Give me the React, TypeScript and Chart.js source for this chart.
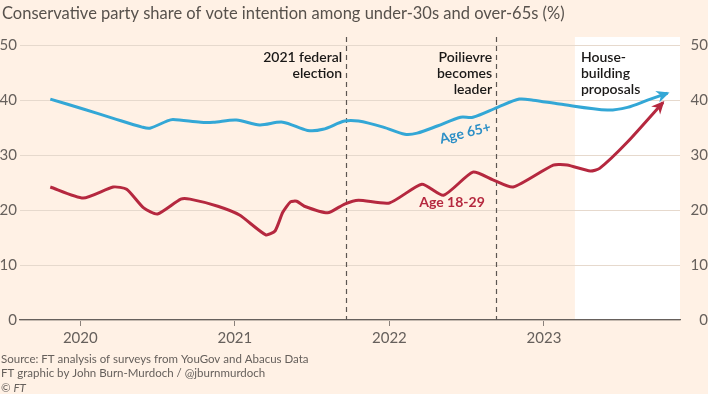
import React, { useEffect, useRef } from "react";
import { Chart, registerables } from "chart.js";

Chart.register(...registerables);

const title = "Conservative party share of vote intention among under-30s and over-65s (%)";
const footerLines = [
  "Source: FT analysis of surveys from YouGov and Abacus Data",
  "FT graphic by John Burn-Murdoch / @jburnmurdoch",
];

const xTickYears = [2020, 2021, 2022, 2023];
const yTicks = [0, 10, 20, 30, 40, 50];

const olderDates = [
  2019.806, 2020.019, 2020.213, 2020.4, 2020.45, 2020.56, 2020.6, 2020.78, 2020.86, 2021.01,
  2021.16, 2021.31, 2021.47, 2021.57, 2021.71, 2021.8, 2021.96, 2022.1, 2022.18, 2022.31,
  2022.46, 2022.54, 2022.7, 2022.84, 2022.93, 2023.1, 2023.41, 2023.54, 2023.67, 2023.8,
];
const olderValues = [
  40.2, 38.4, 36.7, 35.1, 34.9, 36.2, 36.5, 36.0, 36.0, 36.4,
  35.5, 36.0, 34.5, 34.7, 36.2, 36.2, 35.1, 33.8, 34.0, 35.3,
  36.9, 36.9, 38.7, 40.2, 40.0, 39.3, 38.2, 38.7, 40.0, 41.3,
];

const youngDates = [
  2019.806, 2020.019, 2020.213, 2020.3, 2020.41, 2020.5, 2020.65, 2020.71, 2020.89, 2021.03,
  2021.2, 2021.26, 2021.31, 2021.36, 2021.4, 2021.45, 2021.6, 2021.71, 2021.8, 2022.0,
  2022.21, 2022.35, 2022.54, 2022.67, 2022.8, 2023.06, 2023.15, 2023.3, 2023.36, 2023.54,
  2023.77,
];
const youngValues = [
  24.2, 22.2, 24.2, 23.8, 20.4, 19.3, 22.0, 22.0, 20.7, 19.1,
  15.5, 16.2, 19.6, 21.5, 21.6, 20.7, 19.5, 21.1, 21.8, 21.3,
  24.7, 22.7, 26.9, 25.5, 24.2, 28.2, 28.2, 27.1, 27.6, 32.4,
  39.6,
];

const eventDates = [2021.72, 2022.69];
const eventLabels = [["2021 federal", "election"], ["Poilievre", "becomes", "leader"]];
const highlightStart = 2023.2;
const highlightLabel = ["House-", "building", "proposals"];

const seriesLabels = ["Age 65+", "Age 18-29"];
const seriesLabelPos = [
  { x: 2022.49, y: 34.0 },
  { x: 2022.405, y: 21.3 },
];

const BLUE = "#33a7d6";
const BLUE_TEXT = "#2d8fc6";
const RED = "#b5283f";
const GREY = "#66605c";
const BG = "#fff1e5";

const App: React.FC = () => {
  const ref = useRef<HTMLCanvasElement | null>(null);

  useEffect(() => {
    document.body.style.margin = "0";
    const canvas = ref.current;
    if (!canvas) return;

    const highlightPlugin = {
      id: "highlight",
      beforeDraw(chart: any) {
        const { ctx, chartArea, scales } = chart;
        const x0 = scales.x.getPixelForValue(highlightStart);
        ctx.save();
        ctx.fillStyle = "#ffffff";
        ctx.fillRect(x0, chartArea.top, chartArea.right - x0, chartArea.bottom - chartArea.top);
        ctx.restore();
      },
    };

    const eventPlugin = {
      id: "events",
      beforeDatasetsDraw(chart: any) {
        const { ctx, chartArea, scales } = chart;
        ctx.save();
        ctx.strokeStyle = "#5c5652";
        ctx.lineWidth = 1.2;
        ctx.setLineDash([5, 4]);
        eventDates.forEach((d) => {
          const x = Math.round(scales.x.getPixelForValue(d)) + 0.5;
          ctx.beginPath();
          ctx.moveTo(x, chartArea.top);
          ctx.lineTo(x, chartArea.bottom);
          ctx.stroke();
        });
        ctx.setLineDash([]);
        ctx.fillStyle = "#1a1817";
        ctx.font = "600 14px Lato";
        ctx.textBaseline = "middle";
        ctx.textAlign = "right";
        eventDates.forEach((d, i) => {
          const x = scales.x.getPixelForValue(d) - 4;
          eventLabels[i].forEach((line, j) => {
            ctx.fillText(line, x, 57 + j * 16);
          });
        });
        ctx.textAlign = "left";
        const hx = scales.x.getPixelForValue(highlightStart) + 6;
        highlightLabel.forEach((line, j) => {
          ctx.fillText(line, hx, 57 + j * 16);
        });
        ctx.restore();
      },
      afterDatasetsDraw(chart: any) {
        const { ctx, scales } = chart;
        ctx.save();
        chart.data.datasets.forEach((ds: any, i: number) => {
          const meta = chart.getDatasetMeta(i);
          const pts = meta.data;
          const last = pts[pts.length - 1];
          const prev = pts[pts.length - 2];
          let dx = last.x - (last.cp1x ?? prev.x);
          let dy = last.y - (last.cp1y ?? prev.y);
          const len = Math.hypot(dx, dy) || 1;
          dx /= len;
          dy /= len;
          const tipX = last.x + dx * 2;
          const tipY = last.y + dy * 2;
          const L = 13;
          const W = 6;
          const bx = tipX - dx * L;
          const by = tipY - dy * L;
          const nx = -dy;
          const ny = dx;
          ctx.fillStyle = ds.borderColor;
          ctx.beginPath();
          ctx.moveTo(tipX, tipY);
          ctx.lineTo(bx + nx * W, by + ny * W);
          ctx.lineTo(tipX - dx * L * 0.7, tipY - dy * L * 0.7);
          ctx.lineTo(bx - nx * W, by - ny * W);
          ctx.closePath();
          ctx.fill();
        });
        ctx.font = "bold 14px Lato";
        ctx.textAlign = "center";
        ctx.textBaseline = "middle";
        const p0 = seriesLabelPos[0];
        ctx.save();
        ctx.translate(scales.x.getPixelForValue(p0.x), scales.y.getPixelForValue(p0.y));
        ctx.rotate((-14 * Math.PI) / 180);
        ctx.fillStyle = BLUE_TEXT;
        ctx.fillText(seriesLabels[0], 0, 0);
        ctx.restore();
        const p1 = seriesLabelPos[1];
        ctx.fillStyle = RED;
        ctx.fillText(seriesLabels[1], scales.x.getPixelForValue(p1.x), scales.y.getPixelForValue(p1.y));
        ctx.restore();
      },
      afterDraw(chart: any) {
        const { ctx } = chart;
        ctx.save();
        ctx.textBaseline = "middle";
        ctx.textAlign = "left";
        ctx.fillStyle = "#57514c";
        ctx.font = "16.5px Lato";
        ctx.fillText(title, 2, 14);
        ctx.fillStyle = GREY;
        ctx.font = "11.5px Lato";
        footerLines.forEach((l, i) => ctx.fillText(l, 1, 359 + i * 14.5));
        ctx.fillText("©", 1, 388);
        const w = ctx.measureText("© ").width;
        ctx.font = "italic 11.5px Lato";
        ctx.fillText("FT", 1 + w, 388);
        ctx.restore();
      },
    };

    const tickFont = { family: "Lato", size: 15 };

    const chart = new Chart(canvas, {
      type: "line",
      data: {
        datasets: [
          {
            label: seriesLabels[0],
            data: olderDates.map((d, i) => ({ x: d, y: olderValues[i] })),
            borderColor: BLUE,
            borderWidth: 3,
            pointRadius: 0,
            tension: 0.3,
            yAxisID: "y",
          },
          {
            label: seriesLabels[1],
            data: youngDates.map((d, i) => ({ x: d, y: youngValues[i] })),
            borderColor: RED,
            borderWidth: 3,
            pointRadius: 0,
            tension: 0.2,
            yAxisID: "y",
          },
        ],
      },
      options: {
        animation: false,
        responsive: false,
        maintainAspectRatio: false,
        events: [],
        layout: { padding: { top: 37, bottom: 44, left: 0, right: 0 } },
        plugins: {
          legend: { display: false },
          tooltip: { enabled: false },
          title: { display: false },
        },
        scales: {
          x: {
            type: "linear",
            min: 2019.61,
            max: 2023.88,
            afterBuildTicks: (s: any) => {
              s.ticks = xTickYears.map((v) => ({ value: v }));
            },
            afterFit: (s: any) => {
              s.height = 30;
            },
            ticks: {
              color: GREY,
              font: tickFont,
              padding: 3,
              maxRotation: 0,
              callback: (v: any) => String(v),
            },
            grid: {
              drawOnChartArea: false,
              drawTicks: true,
              tickLength: 6,
              color: "#8a817b",
            },
            border: { color: GREY, width: 1.2 },
          },
          y: {
            position: "left",
            min: 0,
            max: 51.5,
            afterBuildTicks: (s: any) => {
              s.ticks = yTicks.map((v) => ({ value: v }));
            },
            afterFit: (s: any) => {
              s.width = 20;
            },
            ticks: { color: GREY, font: tickFont, padding: 3 },
            grid: { color: "#e6d9cd", drawTicks: false, lineWidth: 1 },
            border: { display: false },
          },
          y2: {
            position: "right",
            min: 0,
            max: 51.5,
            afterBuildTicks: (s: any) => {
              s.ticks = yTicks.map((v) => ({ value: v }));
            },
            afterFit: (s: any) => {
              s.width = 28;
            },
            ticks: { color: GREY, font: tickFont, padding: 3, crossAlign: "far" },
            grid: { display: false, drawTicks: false },
            border: { display: false },
          },
        },
      },
      plugins: [highlightPlugin, eventPlugin],
    } as any);

    return () => chart.destroy();
  }, []);

  return (
    <div style={{ position: "fixed", left: 0, top: 0, width: 708, height: 394, background: BG }}>
      <canvas ref={ref} width={708} height={394} style={{ display: "block", width: 708, height: 394 }} />
    </div>
  );
};

export default App;
